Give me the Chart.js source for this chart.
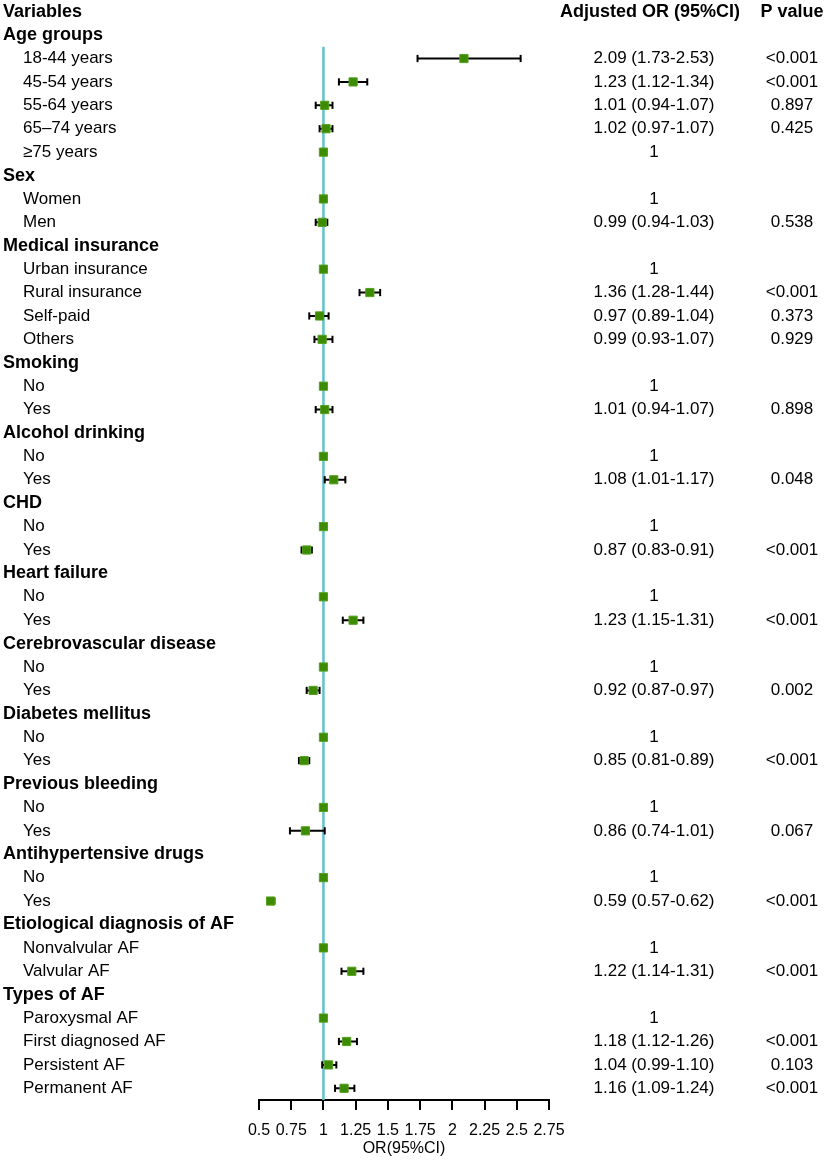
<!DOCTYPE html>
<html>
<head>
<meta charset="utf-8">
<script src="https://cdn.jsdelivr.net/npm/chart.js@4"></script>
<style>
  body { margin: 0; background: #fff; }
  #forest { display: block; }
</style>
</head>
<body>
<canvas id="forest" width="829" height="1161"></canvas>
<script>
// rows of the forest plot, top to bottom
const rowLabels = ['Variables', 'Age groups', '18-44 years', '45-54 years', '55-64 years', '65–74 years', '≥75 years',
  'Sex', 'Women', 'Men',
  'Medical insurance', 'Urban insurance', 'Rural insurance', 'Self-paid', 'Others',
  'Smoking', 'No', 'Yes',
  'Alcohol drinking', 'No', 'Yes',
  'CHD', 'No', 'Yes',
  'Heart failure', 'No', 'Yes',
  'Cerebrovascular disease', 'No', 'Yes',
  'Diabetes mellitus', 'No', 'Yes',
  'Previous bleeding', 'No', 'Yes',
  'Antihypertensive drugs', 'No', 'Yes',
  'Etiological diagnosis of AF', 'Nonvalvular AF', 'Valvular AF',
  'Types of AF', 'Paroxysmal AF', 'First diagnosed AF', 'Persistent AF', 'Permanent AF'];

const groupTitles = ['Variables', 'Age groups', 'Sex', 'Medical insurance', 'Smoking', 'Alcohol drinking', 'CHD',
  'Heart failure', 'Cerebrovascular disease', 'Diabetes mellitus', 'Previous bleeding',
  'Antihypertensive drugs', 'Etiological diagnosis of AF', 'Types of AF'];

const orValue = [null, null, 2.09, 1.23, 1.01, 1.02, 1,
  null, 1, 0.99,
  null, 1, 1.36, 0.97, 0.99,
  null, 1, 1.01,
  null, 1, 1.08,
  null, 1, 0.87,
  null, 1, 1.23,
  null, 1, 0.92,
  null, 1, 0.85,
  null, 1, 0.86,
  null, 1, 0.59,
  null, 1, 1.22,
  null, 1, 1.18, 1.04, 1.16];

const ciLow = [null, null, 1.73, 1.12, 0.94, 0.97, null,
  null, null, 0.94,
  null, null, 1.28, 0.89, 0.93,
  null, null, 0.94,
  null, null, 1.01,
  null, null, 0.83,
  null, null, 1.15,
  null, null, 0.87,
  null, null, 0.81,
  null, null, 0.74,
  null, null, 0.57,
  null, null, 1.14,
  null, null, 1.12, 0.99, 1.09];

const ciHigh = [null, null, 2.53, 1.34, 1.07, 1.07, null,
  null, null, 1.03,
  null, null, 1.44, 1.04, 1.07,
  null, null, 1.07,
  null, null, 1.17,
  null, null, 0.91,
  null, null, 1.31,
  null, null, 0.97,
  null, null, 0.89,
  null, null, 1.01,
  null, null, 0.62,
  null, null, 1.31,
  null, null, 1.26, 1.10, 1.24];

const orText = ['Adjusted OR (95%CI)', '', '2.09 (1.73-2.53)', '1.23 (1.12-1.34)', '1.01 (0.94-1.07)', '1.02 (0.97-1.07)', '1',
  '', '1', '0.99 (0.94-1.03)',
  '', '1', '1.36 (1.28-1.44)', '0.97 (0.89-1.04)', '0.99 (0.93-1.07)',
  '', '1', '1.01 (0.94-1.07)',
  '', '1', '1.08 (1.01-1.17)',
  '', '1', '0.87 (0.83-0.91)',
  '', '1', '1.23 (1.15-1.31)',
  '', '1', '0.92 (0.87-0.97)',
  '', '1', '0.85 (0.81-0.89)',
  '', '1', '0.86 (0.74-1.01)',
  '', '1', '0.59 (0.57-0.62)',
  '', '1', '1.22 (1.14-1.31)',
  '', '1', '1.18 (1.12-1.26)', '1.04 (0.99-1.10)', '1.16 (1.09-1.24)'];

const pText = ['P value', '', '<0.001', '<0.001', '0.897', '0.425', '',
  '', '', '0.538',
  '', '', '<0.001', '0.373', '0.929',
  '', '', '0.898',
  '', '', '0.048',
  '', '', '<0.001',
  '', '', '<0.001',
  '', '', '0.002',
  '', '', '<0.001',
  '', '', '0.067',
  '', '', '<0.001',
  '', '', '<0.001',
  '', '', '<0.001', '0.103', '<0.001'];

const xTicks = [0.5, 0.75, 1, 1.25, 1.5, 1.75, 2, 2.25, 2.5, 2.75];
const refLineRows = [1.5, 46.5];

const FONT = "'Liberation Sans', Arial, sans-serif";

// build the point sets from the arrays
const squares = [];
const caps = [];
const whiskers = [];
orValue.forEach((v, i) => {
  if (v === null) return;
  squares.push({ x: v, y: i });
  if (ciLow[i] !== null) {
    caps.push({ x: ciLow[i], y: i }, { x: ciHigh[i], y: i });
    whiskers.push({ x: ciLow[i], y: i }, { x: ciHigh[i], y: i }, { x: NaN, y: NaN });
  }
});

const textColumns = {
  id: 'textColumns',
  afterDraw(chart) {
    const ctx = chart.ctx;
    const ys = chart.scales.y;
    ctx.save();
    ctx.fillStyle = '#000';
    ctx.textBaseline = 'middle';
    rowLabels.forEach((lab, i) => {
      const y = ys.getPixelForValue(i);
      const isTitle = groupTitles.includes(lab) && (i === 0 || orValue[i] === null);
      ctx.textAlign = 'left';
      ctx.font = (isTitle ? 'bold 18px ' : '17px ') + FONT;
      ctx.fillText(lab, isTitle ? 3 : 23, y);
      if (i === 0) {
        ctx.font = 'bold 18px ' + FONT;
        ctx.fillText(orText[i], 560, y);
        ctx.textAlign = 'center';
        ctx.fillText(pText[i], 792, y);
      } else {
        ctx.font = '17px ' + FONT;
        ctx.textAlign = 'center';
        if (orText[i]) ctx.fillText(orText[i], 654, y);
        if (pText[i]) ctx.fillText(pText[i], 792, y);
      }
    });
    ctx.restore();
  }
};

new Chart(document.getElementById('forest'), {
  type: 'scatter',
  data: {
    datasets: [
      {
        label: 'OR',
        data: squares,
        pointStyle: 'rect',
        pointRadius: 5.8,
        backgroundColor: '#3d8b00',
        borderColor: '#55a01f',
        borderWidth: 1
      },
      {
        label: 'caps',
        data: caps,
        pointStyle: 'line',
        rotation: 90,
        pointRadius: 3.6,
        borderColor: '#000',
        borderWidth: 2
      },
      {
        label: '95%CI',
        data: whiskers,
        showLine: true,
        spanGaps: false,
        pointRadius: 0,
        borderColor: '#000',
        borderWidth: 2
      },
      {
        label: 'ref',
        data: refLineRows.map(r => ({ x: 1, y: r })),
        showLine: true,
        pointRadius: 0,
        borderColor: '#62c1cb',
        borderWidth: 2.5
      }
    ]
  },
  options: {
    responsive: false,
    animation: false,
    layout: { autoPadding: false, padding: { left: 259, right: 280, top: 0, bottom: 0 } },
    plugins: {
      legend: { display: false },
      tooltip: { enabled: false }
    },
    scales: {
      y: {
        type: 'linear',
        display: false,
        reverse: true,
        min: -0.5,
        max: 46.5
      },
      x: {
        type: 'linear',
        min: 0.5,
        max: 2.75,
        afterBuildTicks: (scale) => { scale.ticks = xTicks.map(v => ({ value: v })); },
        afterFit: (scale) => { scale.height = 61; },
        border: { display: true, color: '#000', width: 2 },
        grid: { drawOnChartArea: false, drawTicks: true, tickLength: 10, color: '#000', lineWidth: 2 },
        ticks: {
          padding: 11,
          color: '#000',
          maxRotation: 0,
          autoSkip: false,
          font: { family: FONT, size: 16 },
          callback: (v) => String(v)
        },
        title: {
          display: true,
          text: 'OR(95%CI)',
          color: '#000',
          font: { family: FONT, size: 16 },
          padding: { top: 0, bottom: 3 }
        }
      }
    }
  },
  plugins: [textColumns]
});
</script>
</body>
</html>
